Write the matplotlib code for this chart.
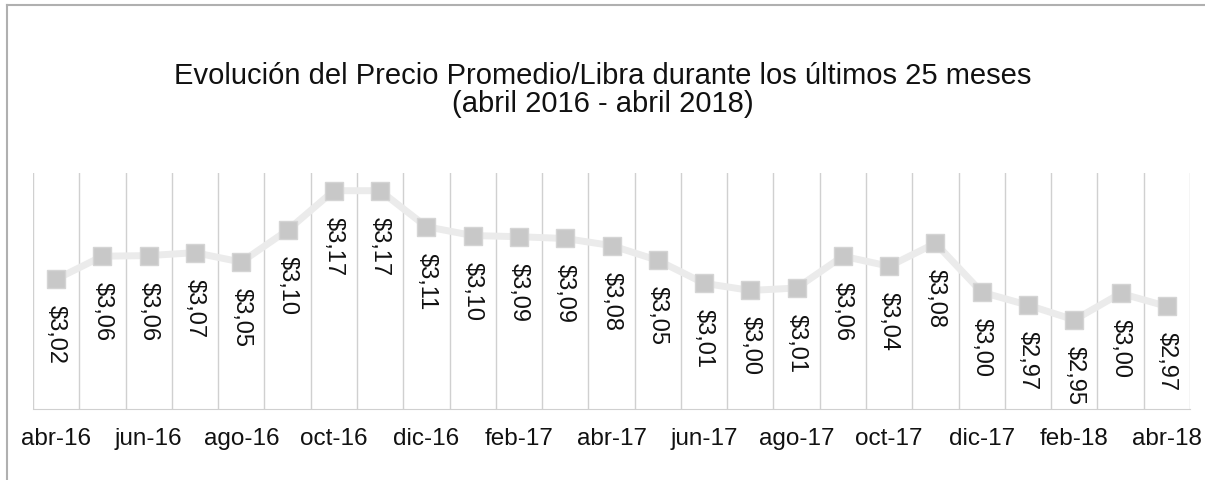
import numpy as np
import matplotlib.pyplot as plt
from matplotlib.lines import Line2D

plt.rcParams['font.family'] = ['Liberation Sans', 'DejaVu Sans']

# Data
meses = ['abr-16', 'may-16', 'jun-16', 'jul-16', 'ago-16', 'sep-16', 'oct-16', 'nov-16',
         'dic-16', 'ene-17', 'feb-17', 'mar-17', 'abr-17', 'may-17', 'jun-17', 'jul-17',
         'ago-17', 'sep-17', 'oct-17', 'nov-17', 'dic-17', 'ene-18', 'feb-18', 'mar-18', 'abr-18']
precio = [3.020, 3.059, 3.060, 3.065, 3.049, 3.103, 3.170, 3.170, 3.109, 3.094, 3.092, 3.089,
          3.077, 3.052, 3.013, 3.001, 3.005, 3.059, 3.042, 3.081, 2.998, 2.976, 2.951, 2.996, 2.974]
etiquetas = ['$3,02', '$3,06', '$3,06', '$3,07', '$3,05', '$3,10', '$3,17', '$3,17', '$3,11',
             '$3,10', '$3,09', '$3,09', '$3,08', '$3,05', '$3,01', '$3,00', '$3,01', '$3,06',
             '$3,04', '$3,08', '$3,00', '$2,97', '$2,95', '$3,00', '$2,97']

x = np.arange(len(meses))

fig = plt.figure(figsize=(12.05, 4.81), dpi=100)
ax = fig.add_axes([33 / 1205, 1 - 410 / 481, (1190 - 33) / 1205, (410 - 174) / 481])

ax.plot(x, precio, color='#ebebeb', lw=5, solid_joinstyle='round', solid_capstyle='round', zorder=2)
ax.plot(x, precio, ls='none', marker='s', ms=13, mfc='#c8c8c8', mec='#d4d4d4', mew=1, zorder=3)

for xi, yi, t in zip(x, precio, etiquetas):
    ax.annotate(t, (xi, yi), xytext=(0, -18), textcoords='offset points',
                rotation=270, ha='center', va='top', fontsize=17, color='#111111')

ax.set_xlim(-0.5, len(meses) - 0.5)
ax.set_ylim(2.8, 3.2)

# vertical gridlines on category boundaries
for b in np.arange(-0.5, len(meses), 1):
    ax.axvline(b, color='#d0d0d0', lw=1, zorder=1)

ax.set_yticks([])
ax.set_xticks(x[::2])
ax.set_xticklabels(meses[::2], fontsize=17.5, color='#111111')
ax.tick_params(axis='x', length=0, pad=13)
for s in ['top', 'right', 'left']:
    ax.spines[s].set_visible(False)
ax.spines['bottom'].set_color('#d0d0d0')

fig.text(0.5, 1 - 90 / 481, 'Evolución del Precio Promedio/Libra durante los últimos 25 meses\n(abril 2016 - abril 2018)',
         ha='center', va='center', fontsize=21, color='#111111', linespacing=1.0)

# chart border
fig.add_artist(Line2D([7 / 1205, 1], [1 - 6 / 481, 1 - 6 / 481], color='#b0b0b0', lw=1.5))
fig.add_artist(Line2D([7 / 1205, 7 / 1205], [0, 1 - 6 / 481], color='#b0b0b0', lw=1.5))

fig.savefig('out.png', dpi=100)
